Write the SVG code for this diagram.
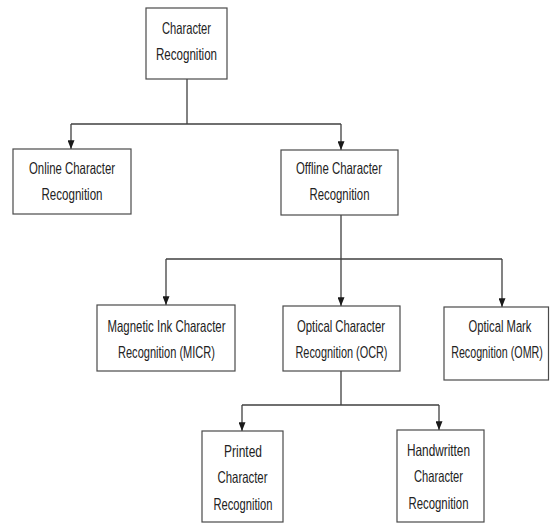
<svg xmlns="http://www.w3.org/2000/svg" width="550" height="523" viewBox="0 0 550 523">
<style>
.box{fill:#fff;stroke:#4a4a4a;stroke-width:1.2}
.t{font-family:"Liberation Sans",Arial,sans-serif;font-size:16.5px;fill:#222;text-anchor:middle}
.c{fill:none;stroke:#404040;stroke-width:1.3}
</style>
<defs>
<marker id="ah" viewBox="0 0 10 8" refX="10" refY="4" markerWidth="9" markerHeight="7" markerUnits="userSpaceOnUse" orient="auto">
<path d="M0,0 L10,4 L0,8 z" fill="#1a1a1a"/>
</marker>
</defs>
<rect width="550" height="523" fill="#fff"/>
<g id="connectors">
<path class="c" d="M187,79 V124 M71,124 H341"/>
<path class="c" d="M71,124 V149" marker-end="url(#ah)"/>
<path class="c" d="M341,124 V150" marker-end="url(#ah)"/>
<path class="c" d="M341,215 V259 M166,259 H502"/>
<path class="c" d="M166,259 V305" marker-end="url(#ah)"/>
<path class="c" d="M341,259 V306" marker-end="url(#ah)"/>
<path class="c" d="M502,259 V307" marker-end="url(#ah)"/>
<path class="c" d="M341,371 V405 M242,405 H439"/>
<path class="c" d="M242,405 V431" marker-end="url(#ah)"/>
<path class="c" d="M439,405 V430" marker-end="url(#ah)"/>
</g>
<g id="character-recognition">
<rect class="box" x="146" y="8" width="81" height="71"/>
<text class="t" x="186.5" y="33.5" textLength="49" lengthAdjust="spacingAndGlyphs">Character</text>
<text class="t" x="186.5" y="60" textLength="61" lengthAdjust="spacingAndGlyphs">Recognition</text>
</g>
<g id="online">
<rect class="box" x="13" y="149" width="118" height="65"/>
<text class="t" x="72" y="174" textLength="86" lengthAdjust="spacingAndGlyphs">Online Character</text>
<text class="t" x="72" y="200" textLength="61" lengthAdjust="spacingAndGlyphs">Recognition</text>
</g>
<g id="offline">
<rect class="box" x="281" y="150" width="117" height="65"/>
<text class="t" x="339" y="174" textLength="86" lengthAdjust="spacingAndGlyphs">Offline Character</text>
<text class="t" x="339.5" y="200" textLength="60" lengthAdjust="spacingAndGlyphs">Recognition</text>
</g>
<g id="micr">
<rect class="box" x="97" y="305" width="138" height="66"/>
<text class="t" x="166.5" y="332" textLength="118" lengthAdjust="spacingAndGlyphs">Magnetic Ink Character</text>
<text class="t" x="166.5" y="358" textLength="97" lengthAdjust="spacingAndGlyphs">Recognition (MICR)</text>
</g>
<g id="ocr">
<rect class="box" x="283" y="306" width="117" height="65"/>
<text class="t" x="341" y="332" textLength="88" lengthAdjust="spacingAndGlyphs">Optical Character</text>
<text class="t" x="341.5" y="358" textLength="92" lengthAdjust="spacingAndGlyphs">Recognition (OCR)</text>
</g>
<g id="omr">
<rect class="box" x="444" y="307" width="104.5" height="73"/>
<text class="t" transform="translate(500 332) scale(0.68 1)">Optical Mark</text>
<text class="t" transform="translate(497 358) scale(0.65 1)">Recognition (OMR)</text>
</g>
<g id="printed">
<rect class="box" x="202" y="431" width="81" height="91"/>
<text class="t" x="243" y="456.5" textLength="38" lengthAdjust="spacingAndGlyphs">Printed</text>
<text class="t" x="242.5" y="483" textLength="50" lengthAdjust="spacingAndGlyphs">Character</text>
<text class="t" x="243" y="509.5" textLength="59" lengthAdjust="spacingAndGlyphs">Recognition</text>
</g>
<g id="handwritten">
<rect class="box" x="397" y="430" width="87" height="92"/>
<text class="t" x="438.5" y="455.5" textLength="63" lengthAdjust="spacingAndGlyphs">Handwritten</text>
<text class="t" x="438.5" y="482" textLength="49" lengthAdjust="spacingAndGlyphs">Character</text>
<text class="t" x="438.5" y="508.5" textLength="60" lengthAdjust="spacingAndGlyphs">Recognition</text>
</g>
</svg>
